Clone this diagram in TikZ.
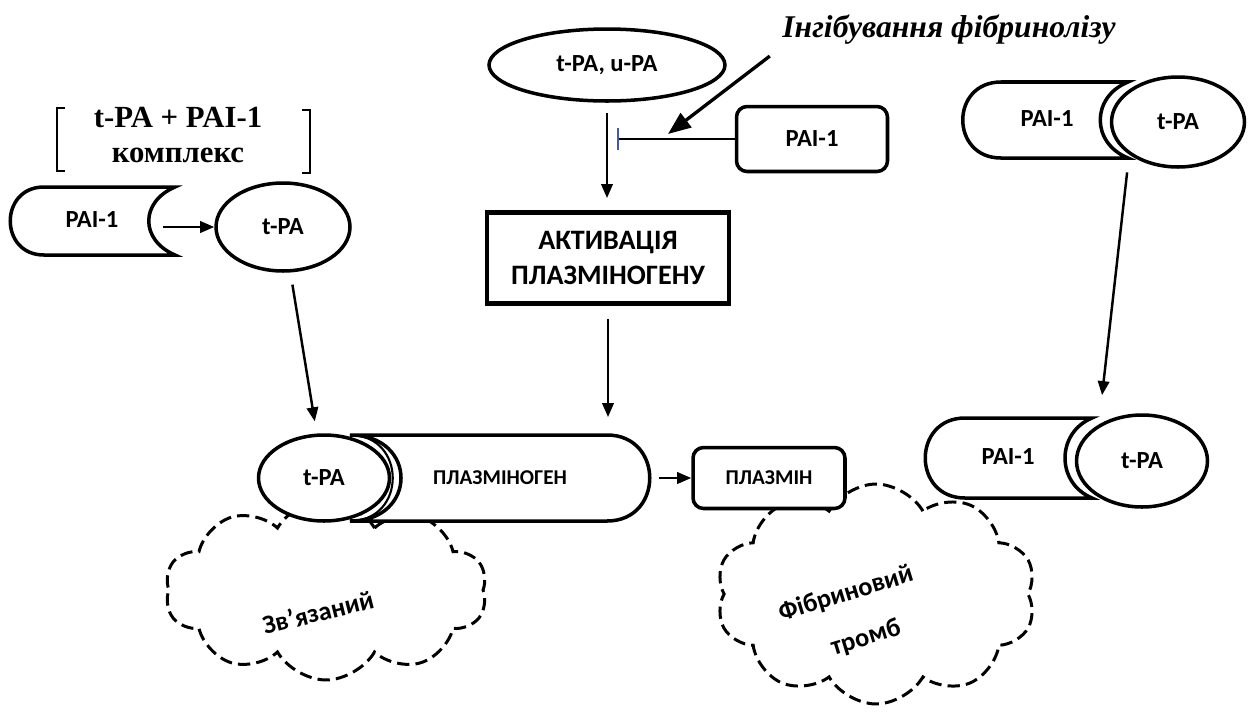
\documentclass[tikz,border=0pt]{standalone}
\usepackage{fontspec}
\setmainfont{Carlito}
\newfontfamily\timesfont{Liberation Serif}
\usepackage{xcolor}
\usetikzlibrary{shapes,shapes.geometric,shapes.symbols,arrows.meta,positioning}
\definecolor{barblue}{RGB}{70,90,160}

\begin{document}
\begin{tikzpicture}[x=0.02cm,y=-0.02cm,line width=1.4pt,>={Triangle[length=8pt,width=6.5pt]},
    every node/.style={font=\bfseries\fontsize{14}{16}\selectfont},
    body/.style={draw,line width=2pt,fill=white},
    tpa/.style={body,ellipse,inner sep=0pt},
    box/.style={body,rounded corners=6pt,inner sep=0pt},
    small/.style={font=\bfseries\fontsize{12}{14}\selectfont},
    cloudtxt/.style={font=\bfseries\fontsize{15}{18}\selectfont,inner sep=1pt},
    puff/.style={draw,cloud,cloud puffs=10,cloud puff arc=120,dash pattern=on 7pt off 3.5pt,line width=1.7pt,inner sep=0pt}]
\useasboundingbox (0,0) rectangle (1251,711);

% clouds behind everything
\node (bound) [puff,minimum width=6.44cm,minimum height=3.6cm] at (326,590) {};
\node (clot) [puff,minimum width=6.4cm,minimum height=4.4cm] at (876,594) {};
\node (bound_txt) [cloudtxt,rotate=14] at (318,612) {Зв’язаний};
\node (clot_txt1) [cloudtxt,rotate=17] at (846,594) {Фібриновий};
\node (clot_txt2) [cloudtxt,rotate=17] at (866,638) {тромб};

% complex in brackets
\draw[line width=1.6pt] (65,108) -| (57,171) -- (65,171);
\draw[line width=1.6pt] (302,110) -| (310,173) -- (302,173);
\node (cmplx) [align=center,font=\timesfont\bfseries\fontsize{17.5}{19.5}\selectfont] at (178,135) {t-PA + PAI-1\\комплекс};

% left PAI-1 and t-PA
\draw[body] (175,187) -- (44,187) .. controls (-1,187) and (-1,255) .. (44,255) -- (175,255) .. controls (140,240) and (140,202) .. (175,187) -- cycle;
\node (pai_l) [minimum width=3.3cm,minimum height=1.36cm,inner sep=0pt] at (92,220) {PAI-1};
\node (tpa_l) [tpa,minimum width=2.68cm,minimum height=1.76cm] at (283,227) {t-PA};
\coordinate (notch_l) at (163,227);

% bound plasminogen
\draw[body] (350,435) -- (607,435) .. controls (664,435) and (664,521) .. (607,521) -- (350,521) .. controls (418,521) and (418,435) .. (350,435) -- cycle;
\draw[line width=1.2pt] (350,521) .. controls (407,521) and (407,435) .. (350,435);
\node (tpa_b) [tpa,minimum width=2.62cm,minimum height=1.72cm] at (324,478) {t-PA};
\node (plg) [small,minimum width=6cm,minimum height=1.72cm,inner sep=0pt] at (500,478) {ПЛАЗМІНОГЕН};

% activation
\node (tpa_u) [tpa,minimum width=4.72cm,minimum height=1.44cm] at (607,65) {t-PA, u-PA};
\node (activ) [body,line width=2.4pt,minimum width=4.84cm,minimum height=1.82cm,align=center,inner sep=0pt,font=\bfseries\fontsize{16}{19.5}\selectfont] at (608,258) {АКТИВАЦІЯ\\ПЛАЗМІНОГЕНУ};
\node (pai_m) [box,minimum width=3.02cm,minimum height=1.3cm] at (812,139) {PAI-1};
\node (inhib) [font=\timesfont\bfseries\itshape\fontsize{18}{20}\selectfont] at (949,30) {Інгібування фібринолізу};
\coordinate (inh) at (617,139);
\coordinate (hit) at (668,134);

% plasmin
\node (plasmin) [box,small,minimum width=3.04cm,minimum height=1.22cm] at (769,478) {ПЛАЗМІН};

% PAI-1 on the clot
\draw[body] (1092,418) -- (965,418) .. controls (912,418) and (912,498) .. (965,498) -- (1092,498) .. controls (1056,483) and (1056,433) .. (1092,418) -- cycle;
\node (pai_r) [minimum width=3.34cm,minimum height=1.6cm,inner sep=0pt] at (1008,457) {PAI-1};
\node (tpa_r) [tpa,minimum width=2.62cm,minimum height=1.84cm] at (1142,461) {t-PA};

% free PAI-1 complex
\draw[body] (1128,82) -- (1001,82) .. controls (950,82) and (950,158) .. (1001,158) -- (1128,158) .. controls (1091,143) and (1091,97) .. (1128,82) -- cycle;
\node (pai_t) [minimum width=3.3cm,minimum height=1.52cm,inner sep=0pt] at (1047,119) {PAI-1};
\node (tpa_t) [tpa,minimum width=2.66cm,minimum height=1.8cm] at (1178,122) {t-PA};
\coordinate (cpx_t) at (1133,120);
\coordinate (cpx_b) at (1095,458);

\path[->]
    (notch_l) edge (tpa_l)
    (tpa_l) edge[shorten <=7pt,shorten >=7pt] (tpa_b)
    (tpa_u) edge[shorten <=6pt,shorten >=7pt] (tpa_u |- activ.north)
    (activ.south) edge[shorten <=7.5pt,shorten >=9.5pt] (activ.south |- plg.north)
    (plg.east) edge[shorten <=4.5pt] (plasmin.west)
    (cpx_t) edge[shorten <=30pt,shorten >=36pt] (cpx_b);
\draw[-{Bar[width=12.5pt,line width=1.2pt,color=barblue]},line width=1.1pt] (pai_m.west |- inh) -- (inh);
\draw[->,line width=1.9pt,>={Triangle[length=13pt,width=10pt]},shorten <=4pt] (inhib.south west) -- (hit);
\end{tikzpicture}
\end{document}
